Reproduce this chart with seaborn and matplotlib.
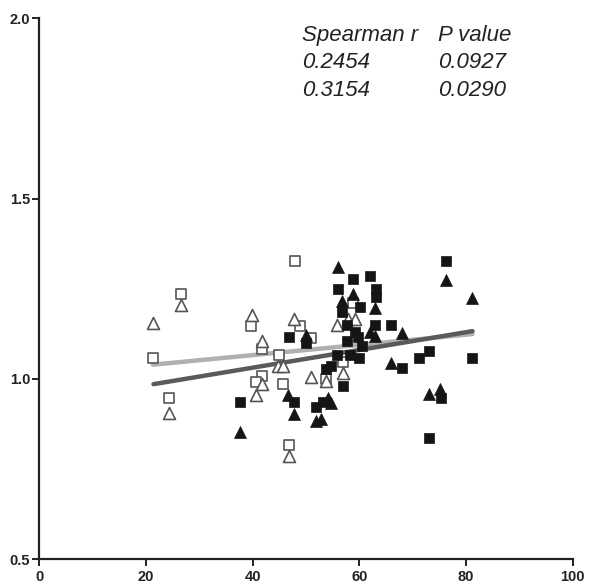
import numpy as np
import pandas as pd
import matplotlib.pyplot as plt
import seaborn as sns

# Open squares
open_sq_x = [21.3, 24.4, 26.5, 39.6, 41.7, 44.9, 41.7, 40.6, 45.7, 46.8, 48.8, 51.0, 47.9, 56.9, 58.8, 53.8]
open_sq_y = [1.057, 0.947, 1.236, 1.146, 1.082, 1.066, 1.008, 0.990, 0.987, 0.818, 1.146, 1.114, 1.326, 1.046, 1.211, 1.000]

# Open triangles
open_tri_x = [21.4, 24.4, 26.5, 39.8, 41.7, 44.7, 45.7, 41.7, 40.7, 46.8, 47.7, 51.0, 57.9, 59.1, 55.8, 53.8, 56.9]
open_tri_y = [1.154, 0.904, 1.204, 1.176, 1.105, 1.036, 1.036, 0.985, 0.956, 0.787, 1.165, 1.004, 1.166, 1.166, 1.148, 0.994, 1.016]

# Filled squares
fill_sq_x = [37.6, 46.8, 49.9, 47.7, 51.9, 53.1, 58.8, 61.9, 55.9, 63.2, 63.2, 60.2, 56.8, 57.6, 62.9, 66.0,
             59.1, 59.7, 57.6, 55.8, 58.3, 54.7, 53.8, 60.0, 56.9, 73.1, 71.1, 68.0, 81.2, 75.3, 73.1, 76.2, 60.5]
fill_sq_y = [0.935, 1.116, 1.100, 0.937, 0.921, 0.935, 1.278, 1.285, 1.250, 1.250, 1.227, 1.199, 1.185, 1.148, 1.148, 1.148,
             1.130, 1.116, 1.105, 1.065, 1.065, 1.036, 1.027, 1.058, 0.981, 1.077, 1.057, 1.030, 1.057, 0.948, 0.836, 1.326, 1.090]

# Filled triangles
fill_tri_x = [37.6, 46.6, 47.7, 49.9, 55.9, 58.8, 56.8, 62.9, 61.9, 62.9, 66.0, 68.0, 76.2, 81.2, 73.1, 75.1, 51.9, 52.8, 54.1, 54.7]
fill_tri_y = [0.854, 0.956, 0.902, 1.123, 1.309, 1.236, 1.217, 1.196, 1.130, 1.120, 1.045, 1.128, 1.275, 1.225, 0.958, 0.972, 0.884, 0.889, 0.948, 0.934]

# Spearman table
stat_header = ["Spearman r", "P value"]
spearman_r = ["0.2454", "0.3154"]
p_values = ["0.0927", "0.0290"]

sns.set_style("ticks")
plt.rcParams["font.family"] = ["Liberation Sans", "DejaVu Sans"]

fig = plt.figure(figsize=(5.96, 5.88), dpi=100)
ax = fig.add_axes([0.066, 0.049, 0.895, 0.920])

# Regression lines: squares and triangles
sq_x = np.array(open_sq_x + fill_sq_x)
sq_y = np.array(open_sq_y + fill_sq_y)
tri_x = np.array(open_tri_x + fill_tri_x)
tri_y = np.array(open_tri_y + fill_tri_y)
for xs, ys, col in [(sq_x, sq_y, "#b0b0b0"), (tri_x, tri_y, "#5a5a5a")]:
    k, b = np.polyfit(xs, ys, 1)
    fx = np.array([xs.min(), xs.max()])
    sns.lineplot(x=fx, y=k * fx + b, color=col, linewidth=3.2, ax=ax, zorder=1)

ms = 62
sns.scatterplot(x=open_sq_x, y=open_sq_y, marker="s", s=ms, facecolor="white", edgecolor="#555555", linewidth=1.2, ax=ax, zorder=3)
sns.scatterplot(x=open_tri_x, y=open_tri_y, marker="^", s=ms + 12, facecolor="white", edgecolor="#555555", linewidth=1.2, ax=ax, zorder=3)
sns.scatterplot(x=fill_sq_x, y=fill_sq_y, marker="s", s=ms, color="#151515", edgecolor="#151515", linewidth=0.5, ax=ax, zorder=4)
sns.scatterplot(x=fill_tri_x, y=fill_tri_y, marker="^", s=ms + 12, color="#151515", edgecolor="#151515", linewidth=0.5, ax=ax, zorder=4)

ax.set_xlim(0, 100)
ax.set_ylim(0.5, 2.0)
ax.set_xticks([0, 20, 40, 60, 80, 100])
ax.set_yticks([0.5, 1.0, 1.5, 2.0])
ax.set_yticklabels(["0.5", "1.0", "1.5", "2.0"])
sns.despine(ax=ax)
for sp in ["left", "bottom"]:
    ax.spines[sp].set_linewidth(1.6)
    ax.spines[sp].set_color("#222222")
ax.tick_params(width=1.4, length=5, color="#222222", labelsize=10.5, pad=1.5)
ax.tick_params(axis="x", pad=3)
for lab in ax.get_xticklabels() + ax.get_yticklabels():
    lab.set_fontweight("bold")
    lab.set_color("#222222")

ty = [1.951, 1.877, 1.800]
tx = [49.2, 74.7]
fs = 16
ax.text(tx[0], ty[0], stat_header[0], style="italic", fontsize=fs, color="#222222", va="center")
ax.text(tx[1], ty[0], stat_header[1], style="italic", fontsize=fs, color="#222222", va="center")
for i in range(2):
    ax.text(tx[0], ty[i + 1], spearman_r[i], style="italic", fontsize=fs, color="#222222", va="center")
    ax.text(tx[1], ty[i + 1], p_values[i], style="italic", fontsize=fs, color="#222222", va="center")

fig.savefig("out.png", dpi=100)
